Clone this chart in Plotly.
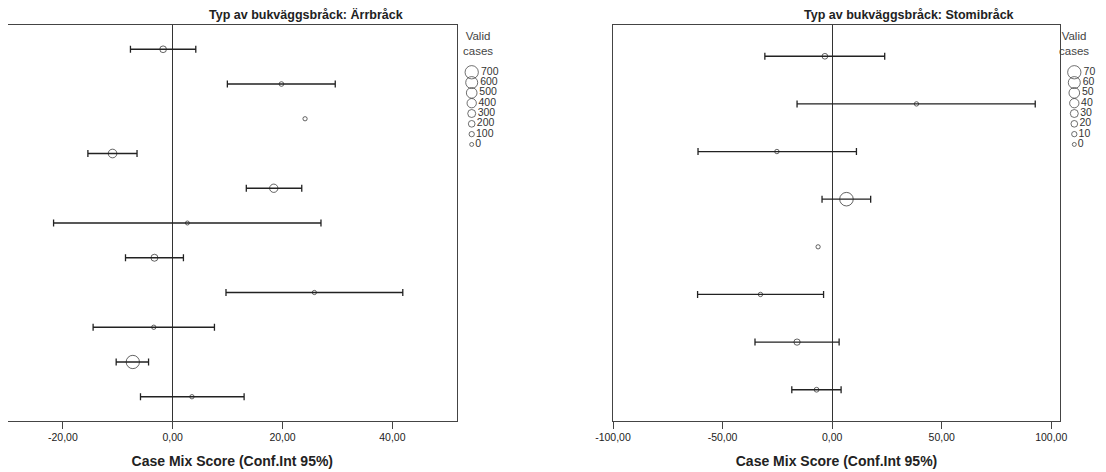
import plotly.graph_objects as go

# ---------------- data ----------------
title_left = "Typ av bukväggsbråck: Ärrbråck"
title_right = "Typ av bukväggsbråck: Stomibråck"
x_title = "Case Mix Score (Conf.Int 95%)"

means_left = [-1.75, 19.8, 24.1, -10.96, 18.4, 2.67, -3.33, 25.8, -3.45, -7.27, 3.5]
lower_left = [-7.7, 9.95, None, -15.45, 13.4, -21.7, -8.6, 9.7, -14.5, -10.3, -5.87]
upper_left = [4.2, 29.6, None, -6.5, 23.5, 27.0, 1.95, 41.9, 7.6, -4.4, 13.0]
cases_left = [203, 50, 20, 350, 325, 2, 225, 20, 25, 700, 25]

means_right = [-3.3, 38.5, -25.2, 6.55, -6.4, -32.7, -16.0, -7.1]
lower_right = [-30.7, -16.0, -61.2, -4.6, None, -61.4, -35.2, -18.4]
upper_right = [24.0, 92.7, 11.1, 17.6, None, -3.9, 3.2, 4.1]
cases_right = [13, 3, 3, 72, 2, 3, 17, 6]

tickvals_left = [-20, 0, 20, 40]
ticktext_left = ["-20,00", "0,00", "20,00", "40,00"]
tickvals_right = [-100, -50, 0, 50, 100]
ticktext_right = ["-100,00", "-50,00", "0,00", "50,00", "100,00"]

legend_left = [700, 600, 500, 400, 300, 200, 100, 0]
legend_right = [70, 60, 50, 40, 30, 20, 10, 0]

# ---------------- style ----------------
W, H = 1106, 472
OFF = 8  # page body margin: paper origin sits at (8, 8) in the window
FONT = "Liberation Sans, Arial, sans-serif"
INK = "#222222"
FRAME = "#444444"


def px_x(p):
    return (p - OFF) / W


def px_y(p):
    return 1 - (p - OFF) / H


def size_of(n, nmax):
    return 4 + 9.3 * n / nmax


fig = go.Figure()


def add_panel(means, lower, upper, cases, nmax, xa, ya):
    idx = list(range(len(means)))
    with_ci = [i for i in idx if lower[i] is not None]
    no_ci = [i for i in idx if lower[i] is None]
    fig.add_trace(go.Scatter(
        x=[means[i] for i in with_ci], y=with_ci, mode="markers",
        xaxis=xa, yaxis=ya, showlegend=False, hoverinfo="x",
        marker=dict(symbol="circle-open", color=INK, line=dict(width=1, color=INK),
                    size=[size_of(cases[i], nmax) for i in with_ci]),
        error_x=dict(type="data", symmetric=False,
                     array=[upper[i] - means[i] for i in with_ci],
                     arrayminus=[means[i] - lower[i] for i in with_ci],
                     color=INK, thickness=1.3, width=3.5),
    ))
    if no_ci:
        fig.add_trace(go.Scatter(
            x=[means[i] for i in no_ci], y=no_ci, mode="markers",
            xaxis=xa, yaxis=ya, showlegend=False, hoverinfo="x",
            marker=dict(symbol="circle-open", color=INK, line=dict(width=1, color=INK),
                        size=[size_of(cases[i], nmax) for i in no_ci]),
        ))


def add_size_legend(values, nmax, xa, ya):
    fig.add_trace(go.Scatter(
        x=[0] * len(values), y=list(range(len(values))), mode="markers+text",
        xaxis=xa, yaxis=ya, showlegend=False, hoverinfo="skip",
        text=[str(v) for v in values], textposition="middle right",
        textfont=dict(family=FONT, size=10.5, color="#333333"),
        cliponaxis=False,
        marker=dict(symbol="circle-open", color="#333333", line=dict(width=1, color="#333333"),
                    size=[size_of(v, nmax) for v in values]),
    ))


add_panel(means_left, lower_left, upper_left, cases_left, legend_left[0], "x", "y")
add_panel(means_right, lower_right, upper_right, cases_right, legend_right[0], "x2", "y2")
add_size_legend(legend_left, legend_left[0], "x3", "y3")
add_size_legend(legend_right, legend_right[0], "x4", "y4")

plot_top, plot_bottom = 25.3, 420.7
ydom = [px_y(plot_bottom), px_y(plot_top)]

xaxis_common = dict(
    showline=True, mirror=True, linecolor=FRAME, linewidth=1,
    ticks="outside", ticklen=7, tickcolor=FRAME, tickwidth=1,
    showgrid=False, zeroline=True, zerolinecolor="#333333", zerolinewidth=1.4,
    tickfont=dict(family=FONT, size=10.5, color=INK),
    title=dict(text="<b>" + x_title + "</b>", font=dict(family=FONT, size=14, color=INK), standoff=13),
    automargin=False,
)
yaxis_common = dict(
    showline=True, mirror=True, linecolor=FRAME, linewidth=1,
    showticklabels=False, ticks="", showgrid=False, zeroline=False, automargin=False,
)

leg_top, leg_bottom = 67.1, 149.6
legend_axis_y = dict(range=[7.5, -0.5], visible=False, fixedrange=True)

fig.update_layout(
    width=W, height=H,
    margin=dict(l=0, r=0, t=0, b=0, autoexpand=False),
    paper_bgcolor="white", plot_bgcolor="white",
    font=dict(family=FONT, color=INK),
    xaxis=dict(xaxis_common, domain=[px_x(8), px_x(456.6)], range=[-30, 51.7],
               tickvals=tickvals_left, ticktext=ticktext_left, anchor="y"),
    yaxis=dict(yaxis_common, domain=ydom, range=[10.69, -0.69], anchor="x"),
    xaxis2=dict(xaxis_common, domain=[px_x(613), px_x(1060)], range=[-100, 104],
                tickvals=tickvals_right, ticktext=ticktext_right, anchor="y2"),
    yaxis2=dict(yaxis_common, domain=ydom, range=[7.65, -0.65], anchor="x2"),
    xaxis3=dict(domain=[px_x(466), px_x(540)], range=[-5.7, 68.3], visible=False,
                fixedrange=True, anchor="y3"),
    yaxis3=dict(legend_axis_y, domain=[px_y(leg_bottom), px_y(leg_top)], anchor="x3"),
    xaxis4=dict(domain=[px_x(1068.6), px_x(1105)], range=[-5.7, 30.7], visible=False,
                fixedrange=True, anchor="y4"),
    yaxis4=dict(legend_axis_y, domain=[px_y(leg_bottom), px_y(leg_top)], anchor="x4"),
    annotations=[
        dict(text="<b>" + title_left + "</b>", x=px_x(306), y=px_y(15), xref="paper", yref="paper",
             xanchor="center", yanchor="middle", showarrow=False,
             font=dict(family=FONT, size=12.5, color=INK)),
        dict(text="<b>" + title_right + "</b>", x=px_x(908.8), y=px_y(15), xref="paper", yref="paper",
             xanchor="center", yanchor="middle", showarrow=False,
             font=dict(family=FONT, size=12.5, color=INK)),
        dict(text="Valid<br>cases", x=px_x(477.7), y=px_y(43), xref="paper", yref="paper",
             xanchor="center", yanchor="middle", showarrow=False,
             font=dict(family=FONT, size=11.5, color="#444444")),
        dict(text="Valid<br>cases", x=px_x(1073.5), y=px_y(43), xref="paper", yref="paper",
             xanchor="center", yanchor="middle", showarrow=False,
             font=dict(family=FONT, size=11.5, color="#444444")),
    ],
)

fig.write_html("out.html")
